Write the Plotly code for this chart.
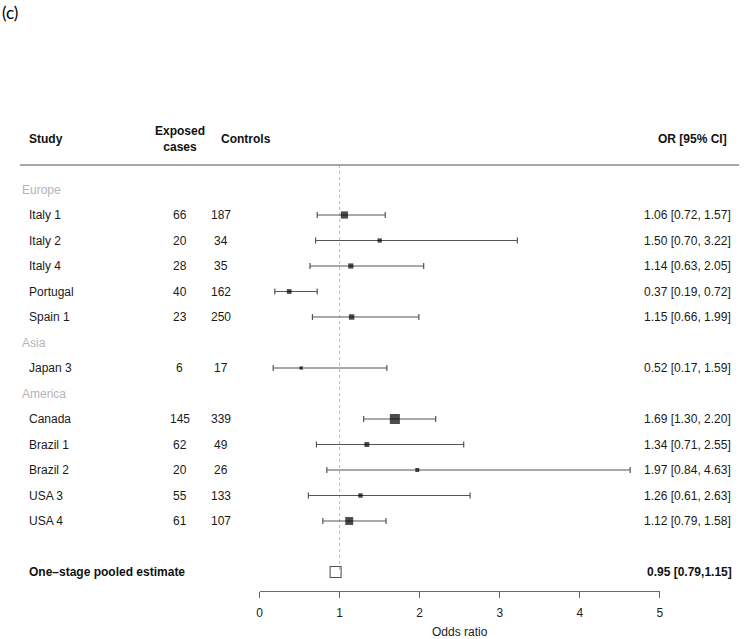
import numpy as np
import plotly.graph_objects as go

# ---------------- data ----------------
regions = ["Europe", "Asia", "America"]
studies = ["Italy 1", "Italy 2", "Italy 4", "Portugal", "Spain 1",
           "Japan 3",
           "Canada", "Brazil 1", "Brazil 2", "USA 3", "USA 4"]
study_region = ["Europe", "Europe", "Europe", "Europe", "Europe",
                "Asia",
                "America", "America", "America", "America", "America"]
exposed_cases = [66, 20, 28, 40, 23, 6, 145, 62, 20, 55, 61]
controls = [187, 34, 35, 162, 250, 17, 339, 49, 26, 133, 107]
odds_ratio = [1.06, 1.50, 1.14, 0.37, 1.15, 0.52, 1.69, 1.34, 1.97, 1.26, 1.12]
ci_lower = [0.72, 0.70, 0.63, 0.19, 0.66, 0.17, 1.30, 0.71, 0.84, 0.61, 0.79]
ci_upper = [1.57, 3.22, 2.05, 0.72, 1.99, 1.59, 2.20, 2.55, 4.63, 2.63, 1.58]
pooled_label = "One\u2013stage pooled estimate"
pooled_or = 0.95
pooled_lo = 0.79
pooled_hi = 1.15
x_ticks = [0, 1, 2, 3, 4, 5]

# ---------------- layout helpers ----------------
W, H = 750, 639
FONT = "Liberation Sans, Arial, Helvetica, sans-serif"
ROW0_PX, ROW_STEP = 138.5, 25.5       # pixel of header row, pixel per row
AXIS_PX = 590.5


def px2x(px):
    return px / W


def py2row(py):
    return (py - ROW0_PX) / ROW_STEP


# row positions (0 = header)
region_rows = {}
study_rows = [None] * len(studies)
p = 2
for r in regions:
    region_rows[r] = p
    p += 1
    for i, s in enumerate(studies):
        if study_region[i] == r:
            study_rows[i] = p
            p += 1
pooled_row = p + 1

# box sizes proportional to precision (1/SE), metafor style
lo = np.array(ci_lower)
hi = np.array(ci_upper)
inv_se = 1.0 / ((np.log(hi) - np.log(lo)) / (2 * 1.96))
norm = (inv_se - inv_se.min()) / (inv_se.max() - inv_se.min())
box_px = 6.7 * (0.5 + norm)

orv = np.array(odds_ratio)

fig = go.Figure()

# confidence intervals
fig.add_trace(go.Scatter(
    x=odds_ratio, y=study_rows, mode="markers",
    marker=dict(size=1, color="rgba(0,0,0,0)"),
    error_x=dict(type="data", symmetric=False,
                 array=list(hi - orv), arrayminus=list(orv - lo),
                 color="#555555", thickness=1.2, width=3),
    cliponaxis=False, hoverinfo="skip", showlegend=False,
))
# point estimates (drawn on top)
fig.add_trace(go.Scatter(
    x=odds_ratio, y=study_rows, mode="markers",
    marker=dict(symbol="square", size=box_px, color="black",
                line=dict(width=0)),
    cliponaxis=False, hoverinfo="skip", showlegend=False,
))

fig.add_trace(go.Scatter(
    x=[pooled_or], y=[pooled_row], mode="markers",
    marker=dict(symbol="square-open", size=11, color="#555555",
                line=dict(width=1.1)),
    cliponaxis=False, hoverinfo="skip", showlegend=False,
))

ann = []
txt = dict(family=FONT, size=12, color="#1a1a1a")
bold = dict(family=FONT, size=12, color="#111111")

# header
ann.append(dict(x=px2x(24), y=0, text="<b>Study</b>", xanchor="left", font=bold))
ann.append(dict(x=px2x(178.5), y=0, text="<b>Exposed</b><br><b>cases</b>",
                xanchor="center", font=bold))
ann.append(dict(x=px2x(218), y=0, text="<b>Controls</b>", xanchor="left", font=bold))
ann.append(dict(x=px2x(733), y=0, text="<b>OR [95% CI]</b>", xanchor="right", font=bold))

# region labels
for r in regions:
    ann.append(dict(x=px2x(17), y=region_rows[r], text=r, xanchor="left",
                    font=dict(family=FONT, size=12, color="#b4b4b4")))

# study rows
for i, s in enumerate(studies):
    y = study_rows[i]
    ann.append(dict(x=px2x(24), y=y, text=s, xanchor="left", font=txt))
    ann.append(dict(x=px2x(178.5), y=y, text=str(exposed_cases[i]),
                    xanchor="center", font=txt))
    ann.append(dict(x=px2x(220), y=y, text=str(controls[i]),
                    xanchor="center", font=txt))
    ann.append(dict(x=px2x(737), y=y,
                    text=f"{odds_ratio[i]:.2f} [{ci_lower[i]:.2f}, {ci_upper[i]:.2f}]",
                    xanchor="right", font=txt))

# pooled
ann.append(dict(x=px2x(24), y=pooled_row, text=f"<b>{pooled_label}</b>",
                xanchor="left", font=bold))
ann.append(dict(x=px2x(738), y=pooled_row,
                text=f"<b>{pooled_or:.2f} [{pooled_lo:.2f},{pooled_hi:.2f}]</b>",
                xanchor="right", font=bold))

for a in ann:
    a.update(xref="paper", yref="y", yanchor="middle", showarrow=False)

# axis title and panel label
ann.append(dict(x=px2x(461), y=1 - 632 / H, xref="paper", yref="paper",
                text="Odds ratio", showarrow=False, xanchor="center",
                yanchor="middle", font=dict(family=FONT, size=12, color="#222222")))
ann.append(dict(x=px2x(-3), y=1 - 13 / H, xref="paper", yref="paper",
                text="(c)", showarrow=False, xanchor="left", yanchor="middle",
                font=dict(family="Lato, Open Sans, sans-serif", size=17, color="#000000")))

shapes = [
    dict(type="line", xref="paper", yref="y", x0=px2x(17), x1=px2x(743),
         y0=py2row(165), y1=py2row(165), line=dict(color="#8a8a8a", width=1.5)),
    dict(type="line", xref="x", yref="y", x0=1, x1=1,
         y0=py2row(165), y1=pooled_row, line=dict(color="#b8b8b8", width=1, dash="dot"),
         layer="below"),
]

fig.update_layout(
    width=W, height=H,
    margin=dict(l=0, r=0, t=0, b=0, pad=0),
    paper_bgcolor="white", plot_bgcolor="white",
    annotations=ann, shapes=shapes,
    xaxis=dict(domain=[px2x(259), px2x(663)], range=[0, 5],
               tickvals=x_ticks, ticktext=[str(t) for t in x_ticks],
               showline=True, linecolor="#6a6a6a", linewidth=1.1,
               ticks="outside", ticklen=6, tickcolor="#6a6a6a", tickwidth=1.1,
               showgrid=False, zeroline=False, ticklabelstandoff=5,
               tickfont=dict(family=FONT, size=12, color="#222222"),
               fixedrange=True),
    yaxis=dict(domain=[1 - AXIS_PX / H, 1],
               range=[py2row(AXIS_PX), py2row(0)],
               visible=False, fixedrange=True),
    showlegend=False,
)

fig.write_html("out.html",
               config={"displayModeBar": False},
               post_script="document.body.style.margin='0px';document.body.style.padding='0px';")
